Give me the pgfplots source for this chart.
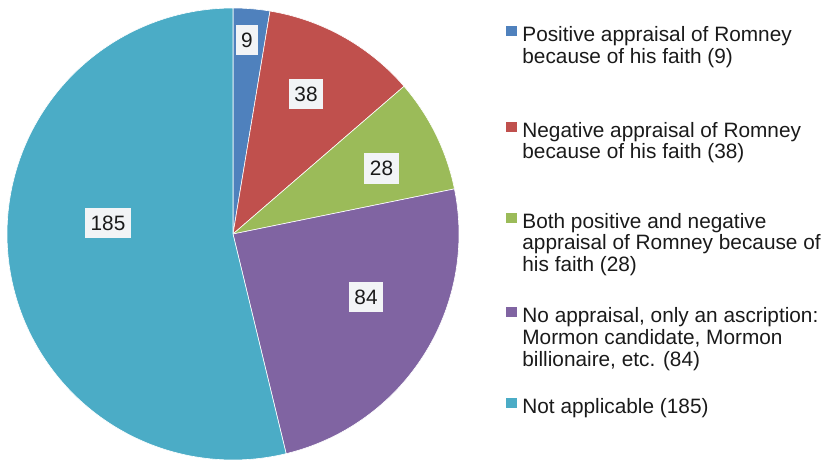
\documentclass[border=0pt]{standalone}
\usepackage{pgfplots}
\pgfplotsset{compat=1.18}
\usepackage{fontspec}
\setmainfont{Liberation Sans}
\definecolor{cA}{HTML}{4F81BD}
\definecolor{cB}{HTML}{C0504D}
\definecolor{cC}{HTML}{9BBB59}
\definecolor{cD}{HTML}{8064A2}
\definecolor{cE}{HTML}{4BACC6}
\definecolor{lblbg}{HTML}{F2F4F6}
\definecolor{txt}{HTML}{1A1A1A}
% data values
\def\va{9}\def\vb{38}\def\vc{28}\def\vd{84}\def\ve{185}
\pgfmathsetmacro\tot{\va+\vb+\vc+\vd+\ve}
\pgfmathsetmacro\k{360/\tot}
\pgfmathsetmacro\aA{90}
\pgfmathsetmacro\aB{90-\k*(\va)}
\pgfmathsetmacro\aC{90-\k*(\va+\vb)}
\pgfmathsetmacro\aD{90-\k*(\va+\vb+\vc)}
\pgfmathsetmacro\aE{90-\k*(\va+\vb+\vc+\vd)}
\pgfmathsetmacro\aF{90-360}
\begin{document}
\begin{tikzpicture}[x=0.5pt,y=0.5pt,font=\fontsize{10.4}{10.85}\selectfont,
  lbl/.style={fill=lblbg,text=txt,inner xsep=2.8pt,inner ysep=3.8pt,text height=7.45pt,text depth=0pt,anchor=center},
  leg/.style={text=txt,anchor=base west,inner sep=0pt}]
\useasboundingbox (0,0) rectangle (823,460);
\begin{axis}[at={(3.5pt,0pt)},anchor=south west,scale only axis,width=226pt,height=226pt,
  xmin=-1,xmax=1,ymin=-1,ymax=1,hide axis,clip=false]
\addplot[fill=cA,draw=white,line width=0.3pt,domain=\aB:\aA,samples=20,variable=\t] ({cos(\t)},{sin(\t)}) -- (axis cs:0,0) -- cycle;
\addplot[fill=cB,draw=white,line width=0.3pt,domain=\aC:\aB,samples=40,variable=\t] ({cos(\t)},{sin(\t)}) -- (axis cs:0,0) -- cycle;
\addplot[fill=cC,draw=white,line width=0.3pt,domain=\aD:\aC,samples=40,variable=\t] ({cos(\t)},{sin(\t)}) -- (axis cs:0,0) -- cycle;
\addplot[fill=cD,draw=white,line width=0.3pt,domain=\aE:\aD,samples=80,variable=\t] ({cos(\t)},{sin(\t)}) -- (axis cs:0,0) -- cycle;
\addplot[fill=cE,draw=white,line width=0.3pt,domain=\aF:\aE,samples=150,variable=\t] ({cos(\t)},{sin(\t)}) -- (axis cs:0,0) -- cycle;
\end{axis}
% slice labels
\node[lbl] at (247,{460-40}) {\va};
\node[lbl] at (306,{460-94}) {\vb};
\node[lbl] at (381.5,{460-168.5}) {\vc};
\node[lbl] at (366,{460-297}) {\vd};
\node[lbl] at (108,{460-223.3}) {\ve};
% legend
\newcommand\legsq[2]{\fill[#1] (506,{460-#2+5.5}) rectangle (516.5,{460-#2+15.5});}
\legsq{cA}{41.7}
\node[leg] at (522,{460-41.7}) {Positive appraisal of Romney};
\node[leg] at (522,{460-63.4}) {because of his faith (9)};
\legsq{cB}{137.3}
\node[leg] at (522,{460-137.3}) {Negative appraisal of Romney};
\node[leg] at (522,{460-159.0}) {because of his faith (38)};
\legsq{cC}{228.3}
\node[leg] at (522,{460-228.3}) {Both positive and negative};
\node[leg] at (522,{460-250.0}) {appraisal of Romney because of};
\node[leg] at (522,{460-271.7}) {his faith (28)};
\legsq{cD}{322.7}
\node[leg] at (522,{460-322.7}) {No appraisal, only an ascription:};
\node[leg] at (522,{460-344.4}) {Mormon candidate, Mormon};
\node[leg] at (522,{460-366.1}) {billionaire, etc. (84)};
\legsq{cE}{413.3}
\node[leg] at (522,{460-413.3}) {Not applicable (185)};
\end{tikzpicture}
\end{document}
